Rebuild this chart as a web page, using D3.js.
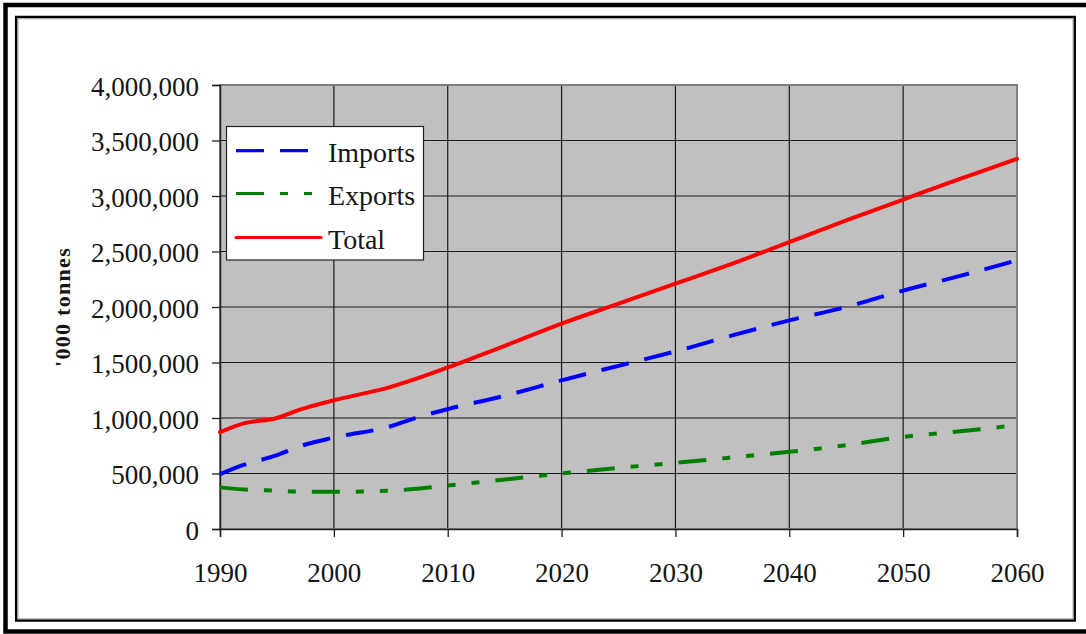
<!DOCTYPE html>
<html>
<head>
<meta charset="utf-8">
<script src="https://cdn.jsdelivr.net/npm/d3@7"></script>
<style>
  html, body { margin: 0; padding: 0; background: #fff; }
  svg { display: block; }
  text { font-family: "Liberation Serif", "Times New Roman", serif; fill: #151515; }
</style>
</head>
<body>
<svg id="chart" width="1086" height="634"></svg>
<script>
// ---- data ----
const years   = [1990, 1992, 1995, 1997, 2000, 2005, 2007, 2010, 2015, 2020, 2025, 2030, 2035, 2040, 2045, 2050, 2055, 2060];
const imports = [494000, 575000, 665000, 745000, 824000, 926000, 995000, 1080000, 1200000, 1339000, 1470000, 1600000, 1744000, 1879000, 2000000, 2148000, 2280000, 2420000];
const exports = [375000, 357000, 345000, 337000, 335000, 345000, 360000, 392000, 445000, 500000, 550000, 596000, 645000, 695000, 755000, 830000, 880000, 935000];
const total   = [872000, 950000, 1000000, 1075000, 1160000, 1280000, 1345000, 1455000, 1650000, 1850000, 2030000, 2210000, 2390000, 2585000, 2780000, 2968000, 3155000, 3335000];
const xTicks  = [1990, 2000, 2010, 2020, 2030, 2040, 2050, 2060];
const yTicks  = [0, 500000, 1000000, 1500000, 2000000, 2500000, 3000000, 3500000, 4000000];
const seriesNames = ["Imports", "Exports", "Total"];
const yTitle = "'000 tonnes";

// ---- layout ----
const svg = d3.select("#chart");
const L = 220, R = 1017, T = 85, B = 529;
const x = d3.scaleLinear().domain([1990, 2060]).range([L, R]);
const y = d3.scaleLinear().domain([0, 4000000]).range([B, T]);
const fmt = d3.format(",");

// frames
svg.append("rect").attr("x", 5.5).attr("y", 5).attr("width", 1092).attr("height", 626.5)
  .attr("fill", "none").attr("stroke", "#000").attr("stroke-width", 4.5);
svg.append("rect").attr("x", 16.2).attr("y", 17).attr("width", 1058.5).attr("height", 603.5)
  .attr("fill", "none").attr("stroke", "#000").attr("stroke-width", 2.5);
svg.append("rect").attr("x", 18).attr("y", 18.8).attr("width", 1055).attr("height", 600)
  .attr("fill", "none").attr("stroke", "#a8a8a8").attr("stroke-width", 1);

// plot area
svg.append("rect").attr("x", L).attr("y", T).attr("width", R - L).attr("height", B - T)
  .attr("fill", "#c0c0c0");

// gridlines
const grid = svg.append("g").attr("stroke", "#1a1a1a").attr("stroke-width", 1.2);
grid.selectAll("line.h").data(yTicks.filter(d => d > 0)).join("line")
  .attr("x1", L).attr("x2", R).attr("y1", d => y(d)).attr("y2", d => y(d));
grid.selectAll("line.v").data(xTicks.filter(d => d > 1990 && d < 2060)).join("line")
  .attr("x1", d => x(d)).attr("x2", d => x(d)).attr("y1", T).attr("y2", B);

// plot border (grey)
svg.append("rect").attr("x", L).attr("y", T).attr("width", R - L).attr("height", B - T)
  .attr("fill", "none").attr("stroke", "#808080").attr("stroke-width", 2);

// axes
const yAxis = d3.axisLeft(y).tickValues(yTicks).tickFormat(fmt).tickSize(8).tickPadding(13);
const gy = svg.append("g").attr("transform", `translate(${L},0)`).call(yAxis);
gy.select(".domain").attr("stroke", "#222").attr("stroke-width", 1.5);
gy.selectAll(".tick line").attr("stroke", "#222").attr("stroke-width", 1.3);
gy.selectAll(".tick text").attr("font-size", 27).attr("fill", "#151515")
  .attr("dy", 10).attr("y", 0).attr("x", -21);

const xAxis = d3.axisBottom(x).tickValues(xTicks).tickFormat(d3.format("d")).tickSize(8).tickPadding(14);
const gx = svg.append("g").attr("transform", `translate(0,${B})`).call(xAxis);
gx.select(".domain").attr("stroke", "#222").attr("stroke-width", 1.5);
gx.selectAll(".tick line").attr("stroke", "#222").attr("stroke-width", 1.3);
gx.selectAll(".tick text").attr("font-size", 27).attr("fill", "#151515")
  .attr("dy", 0).attr("y", 53);

// y title
svg.append("text").attr("transform", `translate(70,307) rotate(-90)`)
  .attr("text-anchor", "middle").attr("font-size", 22).attr("font-weight", "bold")
  .attr("letter-spacing", 1.3).text(yTitle);

// lines
const styles = [
  { name: seriesNames[0], values: imports, color: "#0000ff", dash: "28,16", cap: "butt" },
  { name: seriesNames[1], values: exports, color: "#008000", dash: "28,16,8,16,8,16", cap: "butt" },
  { name: seriesNames[2], values: total,   color: "#ff0000", dash: null, cap: "round" }
];
const line = d3.line().x((d, i) => x(years[i])).y(d => y(d)).curve(d3.curveMonotoneX);
svg.append("g").selectAll("path").data(styles).join("path")
  .attr("d", s => line(s.values))
  .attr("fill", "none").attr("stroke", s => s.color).attr("stroke-width", 4)
  .attr("stroke-dasharray", s => s.dash).attr("stroke-linecap", s => s.cap)
  .attr("stroke-linejoin", "round");

// legend
const lg = svg.append("g");
lg.append("rect").attr("x", 226.5).attr("y", 126.5).attr("width", 197).attr("height", 133.5)
  .attr("fill", "#fff").attr("stroke", "#222").attr("stroke-width", 1.2);
const rowY = [150.7, 193.5, 237.5];
styles.forEach((s, i) => {
  lg.append("line").attr("x1", 236).attr("x2", 321).attr("y1", rowY[i]).attr("y2", rowY[i])
    .attr("stroke", s.color).attr("stroke-width", 3.2)
    .attr("stroke-dasharray", s.dash).attr("stroke-linecap", s.cap);
  lg.append("text").attr("x", 328).attr("y", rowY[i] + 11).attr("font-size", 28)
    .text(s.name);
});
</script>
</body>
</html>
